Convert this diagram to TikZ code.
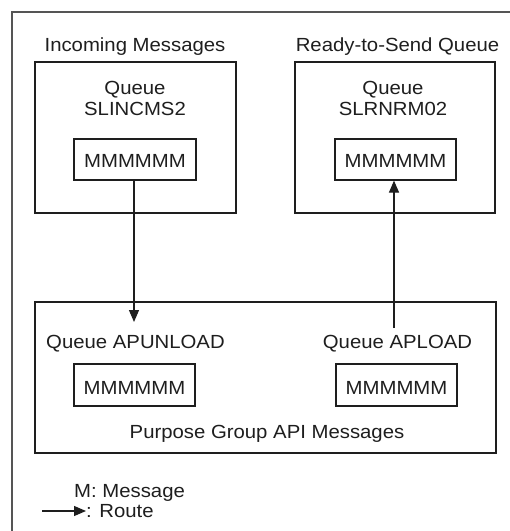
\documentclass[tikz,border=0pt]{standalone}
\usepackage{fontspec}
\setmainfont{Liberation Sans}[FakeStretch=1.07]
\usetikzlibrary{arrows.meta}
\definecolor{ink}{HTML}{1E1E1E}
\definecolor{frame}{HTML}{555555}
\begin{document}
\begin{tikzpicture}[x=1pt,y=-1pt,
  every node/.style={font=\fontsize{19}{22}\selectfont, text=ink, inner sep=0pt},
  box/.style={draw=ink, line width=1.2pt},
  txt/.style={anchor=base},
  route/.style={draw=ink, line width=1.2pt, -{Triangle[length=12pt,width=10pt]}}]
\useasboundingbox (0,0) rectangle (510,531);
% outer frame (open to right and bottom)
\draw[frame, line width=2pt] (510,12) -- (12,12) -- (12,531);
% top boxes
\node[box, minimum width=201pt, minimum height=151pt] (b1) at (135.5,137.5) {};
\node[box, minimum width=200pt, minimum height=151pt] (b2) at (395,137.5) {};
\node[txt] (t1) at (135,51) {Incoming Messages};
\node[txt] (t2) at (397.5,51) {Ready-to-Send Queue};
\node[txt] (q1) at (135,94) {Queue};
\node[txt] (n1) at (135,115) {SLINCMS2};
\node[txt] (q2) at (393,94) {Queue};
\node[txt] (n2) at (393,115) {SLRNRM02};
\node[box, minimum width=122pt, minimum height=41pt] (m1) at (135,159.5) {};
\node[txt] at (135,167) {MMMMMM};
\node[box, minimum width=121pt, minimum height=41pt] (m2) at (395.5,159.5) {};
\node[txt] at (395.5,167) {MMMMMM};
% bottom box
\node[box, minimum width=461pt, minimum height=151pt] (b3) at (265.5,377.5) {};
\node[txt] (u) at (135.5,348) {Queue APUNLOAD};
\node[txt] (l) at (397.5,348) {Queue APLOAD};
\node[box, minimum width=121pt, minimum height=42pt] (m3) at (134.5,385) {};
\node[txt] at (134.5,394) {MMMMMM};
\node[box, minimum width=121pt, minimum height=42pt] (m4) at (396.5,385) {};
\node[txt] at (396.5,394) {MMMMMM};
\node[txt] (pg) at (267,438) {Purpose Group API Messages};
% routes
\coordinate (e1) at (134,322);
\coordinate (s2) at (394,328);
\draw[route] (m1.south -| e1) -- (e1);
\draw[route] (s2) -- (m2.south -| s2);
% legend
\node[txt, anchor=base west] (lm) at (74,497) {M: Message};
\node[txt, anchor=base west] (lr) at (86,517) {: Route};
\coordinate (la) at (42,511);
\draw[route] (la) -- (lr.west |- la);
\end{tikzpicture}
\end{document}
